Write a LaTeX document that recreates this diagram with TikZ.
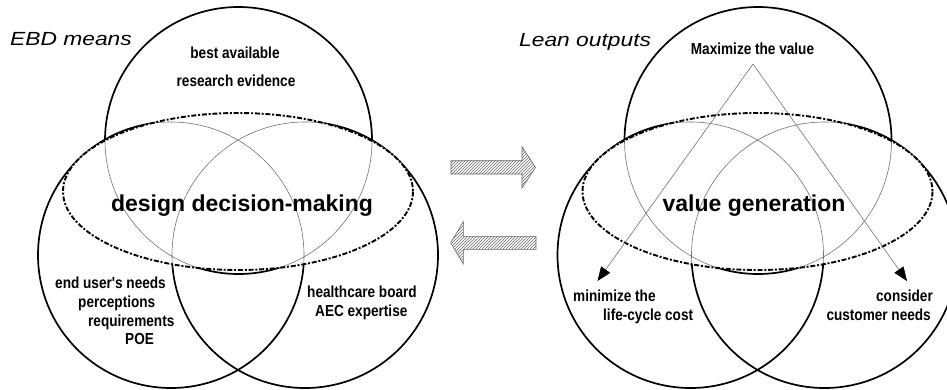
\documentclass[tikz,border=0pt]{standalone}
\usepackage{fontspec}
\setmainfont{Liberation Sans}
\newfontfamily\narrowsf[FakeStretch=0.85]{Liberation Sans}
\newfontfamily\widesf[FakeStretch=1.2]{Liberation Sans}
\usetikzlibrary{arrows.meta,patterns}

\newcommand\venndraw{%
  \coordinate (T) at (238.5,140.5);
  \coordinate (L) at (171,255);
  \coordinate (R) at (305,255);
  \coordinate (E) at (238,191.5);
  \draw[thickline] (T) circle[radius=133.5] (L) circle[radius=133] (R) circle[radius=133];
  \fill[white] (E) ellipse[x radius=175, y radius=78.5];
  \begin{scope}
    \clip (E) ellipse[x radius=175, y radius=78.5];
    \draw[thinline] (T) circle[radius=133.5] (L) circle[radius=133] (R) circle[radius=133];
  \end{scope}
  \draw[dashell] (E) ellipse[x radius=175, y radius=78.5];
}

\begin{document}
\begin{tikzpicture}[x=1pt,y=-1pt,
  thickline/.style={line width=1.7pt,black},
  thinline/.style={line width=0.6pt,black!55},
  dashell/.style={line width=1.9pt,black,dash pattern=on 5pt off 1.8pt on 2pt off 1.8pt},
  small/.style={font=\narrowsf\bfseries\fontsize{16}{18}\selectfont, inner sep=0pt},
  big/.style={font=\bfseries\fontsize{23}{27}\selectfont, inner sep=0pt},
  titletext/.style={font=\widesf\itshape\fontsize{19}{22}\selectfont, inner sep=0pt},
  hatch/.style={draw=black!60, line width=0.6pt, pattern=north east lines, pattern color=black!60},
  ptr/.style={thinline, -{Triangle[length=14pt,width=11pt,color=black]}},
  ]
\useasboundingbox (0,0) rectangle (947,389);
\clip (0,0) rectangle (947,389);

% left diagram
\begin{scope}[name prefix=A-]
  \venndraw
\end{scope}
% right diagram
\begin{scope}[shift={(519.5,0)}, name prefix=B-]
  \venndraw
\end{scope}

% triangle of arrows
\coordinate (apex) at (753,64);
\coordinate (tipL) at (597.5,281);
\coordinate (tipR) at (907,281);
\draw[ptr] (apex) -- (tipL);
\draw[ptr] (apex) -- (tipR);

% hatched arrows
\draw[hatch] (451,160.7) -- (522,160.7) -- (522,146.7) -- (535.5,167.3)
  -- (522,188) -- (522,174) -- (451,174) -- cycle;
\draw[hatch] (536,236.3) -- (463.3,236.3) -- (463.3,221.7) -- (450.7,242.8)
  -- (463.3,264) -- (463.3,249.3) -- (536,249.3) -- cycle;

% texts left
\node[titletext, anchor=base west] (ebd) at (10,45.7) {EBD means};
\node[small, anchor=base] (best) at (235,58.3) {best available};
\node[small, anchor=base] (research) at (236,86) {research evidence};
\node[big, anchor=base] (design) at (242,211.5) {design decision-making};
\node[small, anchor=base west] (enduser) at (55,288.3) {end user's needs};
\node[small, anchor=base west] (percep) at (78,307.3) {perceptions};
\node[small, anchor=base west] (requir) at (88,326.7) {requirements};
\node[small, anchor=base west] (poe) at (125,344.3) {POE};
\node[small, anchor=base west] (health) at (307,297.3) {healthcare board};
\node[small, anchor=base west] (aec) at (315,316.7) {AEC expertise};

% texts right
\node[titletext, anchor=base west] (lean) at (519,46.7) {Lean outputs};
\node[small, anchor=base] (maxv) at (752.5,54) {Maximize the value};
\node[big, anchor=base] (valgen) at (754,211.5) {value generation};
\node[small, anchor=base west] (minim) at (573,301.7) {minimize the};
\node[small, anchor=base west] (lcc) at (603,320) {life-cycle cost};
\node[small, anchor=base east] (consid) at (933,301.7) {consider};
\node[small, anchor=base east] (custn) at (931,320) {customer needs};
\end{tikzpicture}
\end{document}
